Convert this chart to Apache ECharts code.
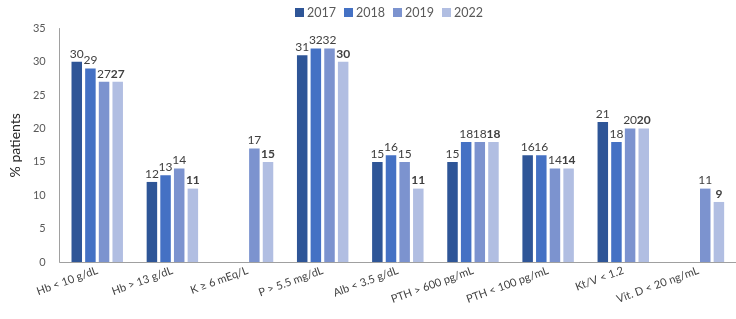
<!DOCTYPE html>
<html>
<head>
<meta charset="utf-8">
<script src="https://cdn.jsdelivr.net/npm/echarts@6/dist/echarts.min.js"></script>
<style>html,body{margin:0;padding:0;background:#fff}#c{width:736px;height:319px}</style>
</head>
<body>
<div id="c"></div>
<script>
const categories = ['Hb < 10 g/dL','Hb > 13 g/dL','K ≥ 6 mEq/L','P > 5.5 mg/dL','Alb < 3.5 g/dL','PTH > 600 pg/mL','PTH < 100 pg/mL','Kt/V < 1.2','Vit. D < 20 ng/mL'];
const years = ['2017','2018','2019','2022'];
const v2017 = [30,12,null,31,15,15,16,21,null];
const v2018 = [29,13,null,32,16,18,16,18,null];
const v2019 = [27,14,17,32,15,18,14,20,11];
const v2022 = [27,11,15,30,11,18,14,20,9];
const yTicks = [0,5,10,15,20,25,30,35];

const colors = ['#2E5597','#4471C4','#7C93CF','#B1BEE2'];
const values = [v2017,v2018,v2019,v2022];
const FONT = 'Lato, "Open Sans", sans-serif';

const chart = echarts.init(document.getElementById('c'));
chart.setOption({
  animation: false,
  textStyle: {fontFamily: FONT},
  legend: {
    top: 1, left: 290,
    itemWidth: 9, itemHeight: 9, itemGap: 8,
    icon: 'rect',
    textStyle: {fontSize: 12.5, color: '#595959', fontFamily: FONT, padding: [0, 0, 0, -2]},
    data: years
  },
  grid: {left: 50, right: 0, top: 28.5, bottom: 57, containLabel: false},
  xAxis: {
    type: 'category',
    data: categories,
    axisLine: {lineStyle: {color: '#A0A0A0', width: 1}},
    axisTick: {show: false},
    axisLabel: {interval: 0, rotate: 20, fontSize: 11, color: '#404040', margin: 8, fontFamily: FONT}
  },
  yAxis: {
    type: 'value',
    min: yTicks[0], max: yTicks[yTicks.length-1], interval: 5,
    name: '% patients', nameLocation: 'middle', nameGap: 32,
    nameTextStyle: {fontSize: 14, color: '#262626', fontFamily: FONT},
    axisLine: {show: true, lineStyle: {color: '#A0A0A0', width: 1}},
    axisTick: {show: false},
    splitLine: {show: false},
    axisLabel: {fontSize: 11, color: '#595959', margin: 14, fontFamily: FONT}
  },
  series: years.map((y, i) => ({
    name: y,
    type: 'bar',
    data: values[i],
    barWidth: 10.5,
    barGap: '30%',
    itemStyle: {color: colors[i]},
    label: {
      show: true, position: 'top', distance: 2,
      fontSize: 12, color: '#404040', fontFamily: FONT,
      fontWeight: i === 3 ? 'bold' : 'normal'
    }
  }))
});
</script>
</body>
</html>
